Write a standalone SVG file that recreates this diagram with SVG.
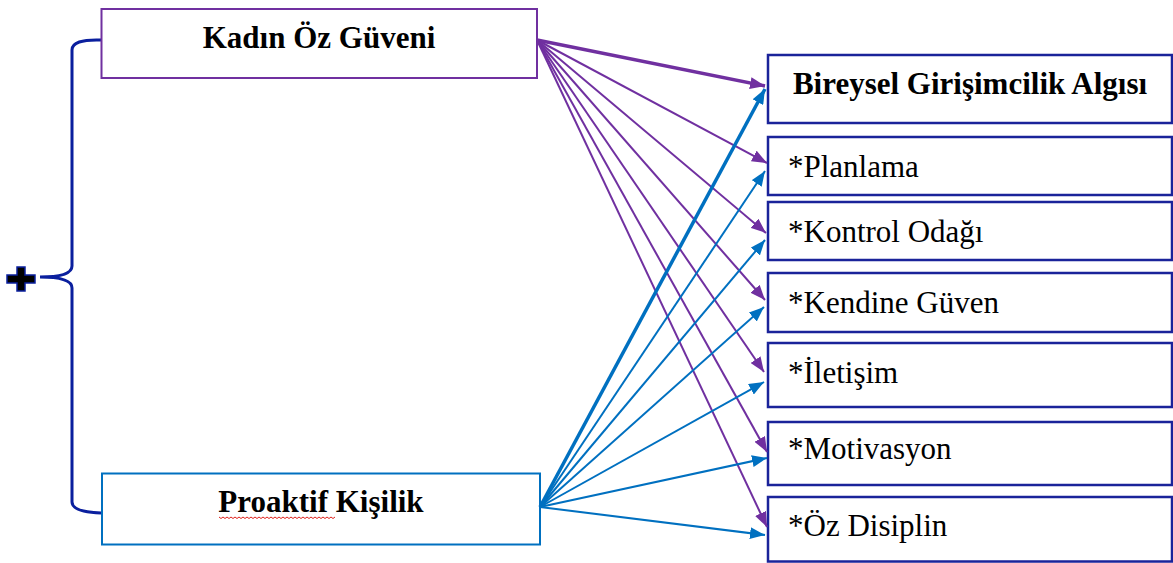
<svg xmlns="http://www.w3.org/2000/svg" width="1173" height="563" viewBox="0 0 1173 563">
<style>
.t{font-family:"Liberation Serif","Times New Roman",serif;font-size:31px;fill:#000}
.b{font-weight:bold}
.rb{fill:#fff;stroke:#1a239a;stroke-width:2.5}
.p{stroke:#7030a0;fill:none;stroke-width:2}
.bl{stroke:#0070c0;fill:none;stroke-width:2}
.thick{stroke-width:3.5}
</style>
<defs>
<marker id="ap" markerUnits="userSpaceOnUse" markerWidth="16" markerHeight="12" refX="15" refY="6" orient="auto"><path d="M0,0 L15,6 L0,12 z" fill="#7030a0"/></marker>
<marker id="ab" markerUnits="userSpaceOnUse" markerWidth="16" markerHeight="12" refX="15" refY="6" orient="auto"><path d="M0,0 L15,6 L0,12 z" fill="#0070c0"/></marker>
</defs>
<rect width="1173" height="563" fill="#fff"/>
<g id="bracket">
<path d="M101,40 Q72,39 72,50 L72,266 Q72,277 40,277 Q72,277 72,288 L72,502 Q72,512 101,513" fill="none" stroke="#0a1f9e" stroke-width="3"/>
<path d="M17,267 h8 v8 h10 v8 h-10 v8 h-8 v-8 h-10 v-8 h10 z" fill="#000" stroke="#0a1f9e" stroke-width="1.5"/>
</g>
<g id="kadin">
<rect x="101.5" y="9" width="435.5" height="69" fill="#fff" stroke="#7030a0" stroke-width="2"/>
<text class="t b" x="319" y="48" text-anchor="middle">Kadın Öz Güveni</text>
</g>
<g id="proaktif">
<rect x="102" y="473.5" width="438" height="71" fill="#fff" stroke="#0070c0" stroke-width="2"/>
<text class="t b" x="321" y="512" text-anchor="middle">Proaktif Kişilik</text>
<path d="M219,517 l2,1.5 l2,-1.5 l2,1.5 l2,-1.5 l2,1.5 l2,-1.5 l2,1.5 l2,-1.5 l2,1.5 l2,-1.5 l2,1.5 l2,-1.5 l2,1.5 l2,-1.5 l2,1.5 l2,-1.5 l2,1.5 l2,-1.5 l2,1.5 l2,-1.5 l2,1.5 l2,-1.5 l2,1.5 l2,-1.5 l2,1.5 l2,-1.5 l2,1.5 l2,-1.5 l2,1.5 l2,-1.5 l2,1.5 l2,-1.5 l2,1.5 l2,-1.5 l2,1.5 l2,-1.5 l2,1.5 l2,-1.5 l2,1.5 l2,-1.5 l2,1.5 l2,-1.5 l2,1.5 l2,-1.5 l2,1.5 l2,-1.5 l2,1.5 l2,-1.5 l2,1.5 l2,-1.5 l2,1.5 l2,-1.5 l2,1.5 l2,-1.5 l2,1.5 l2,-1.5 l2,1.5 l2,-1.5" fill="none" stroke="#e0201a" stroke-width="1"/>
</g>
<g id="bireysel">
<rect class="rb" x="768" y="55" width="404" height="68"/>
<text class="t b" x="970" y="94" text-anchor="middle">Bireysel Girişimcilik Algısı</text>
</g>
<g id="planlama">
<rect class="rb" x="768" y="137" width="404" height="58"/>
<text class="t" x="788" y="177">*Planlama</text>
</g>
<g id="kontrol">
<rect class="rb" x="768" y="202" width="404" height="58"/>
<text class="t" x="788" y="242">*Kontrol Odağı</text>
</g>
<g id="kendine">
<rect class="rb" x="768" y="273" width="404" height="59"/>
<text class="t" x="788" y="313">*Kendine Güven</text>
</g>
<g id="iletisim">
<rect class="rb" x="768" y="343" width="404" height="64"/>
<text class="t" x="788" y="383">*İletişim</text>
</g>
<g id="motivasyon">
<rect class="rb" x="768" y="422" width="404" height="63"/>
<text class="t" x="788" y="459">*Motivasyon</text>
</g>
<g id="ozdisiplin">
<rect class="rb" x="768" y="497" width="404" height="64.5"/>
<text class="t" x="788" y="536">*Öz Disiplin</text>
</g>
<g id="connectors">
<line class="p thick" x1="537" y1="40" x2="765" y2="86" marker-end="url(#ap)"/>
<line class="p" x1="537" y1="40" x2="767" y2="163" marker-end="url(#ap)"/>
<line class="p" x1="537" y1="40" x2="766" y2="233" marker-end="url(#ap)"/>
<line class="p" x1="537" y1="40" x2="765" y2="300" marker-end="url(#ap)"/>
<line class="p" x1="537" y1="40" x2="764" y2="372" marker-end="url(#ap)"/>
<line class="p" x1="537" y1="40" x2="767" y2="452" marker-end="url(#ap)"/>
<line class="p" x1="537" y1="40" x2="767" y2="527" marker-end="url(#ap)"/>
<line class="bl thick" x1="540" y1="507" x2="765" y2="89" marker-end="url(#ab)"/>
<line class="bl" x1="540" y1="507" x2="765" y2="171" marker-end="url(#ab)"/>
<line class="bl" x1="540" y1="507" x2="765" y2="240" marker-end="url(#ab)"/>
<line class="bl" x1="540" y1="507" x2="764" y2="307" marker-end="url(#ab)"/>
<line class="bl" x1="540" y1="507" x2="764" y2="382" marker-end="url(#ab)"/>
<line class="bl" x1="540" y1="507" x2="767" y2="458" marker-end="url(#ab)"/>
<line class="bl" x1="540" y1="507" x2="765" y2="535" marker-end="url(#ab)"/>
</g>
</svg>
